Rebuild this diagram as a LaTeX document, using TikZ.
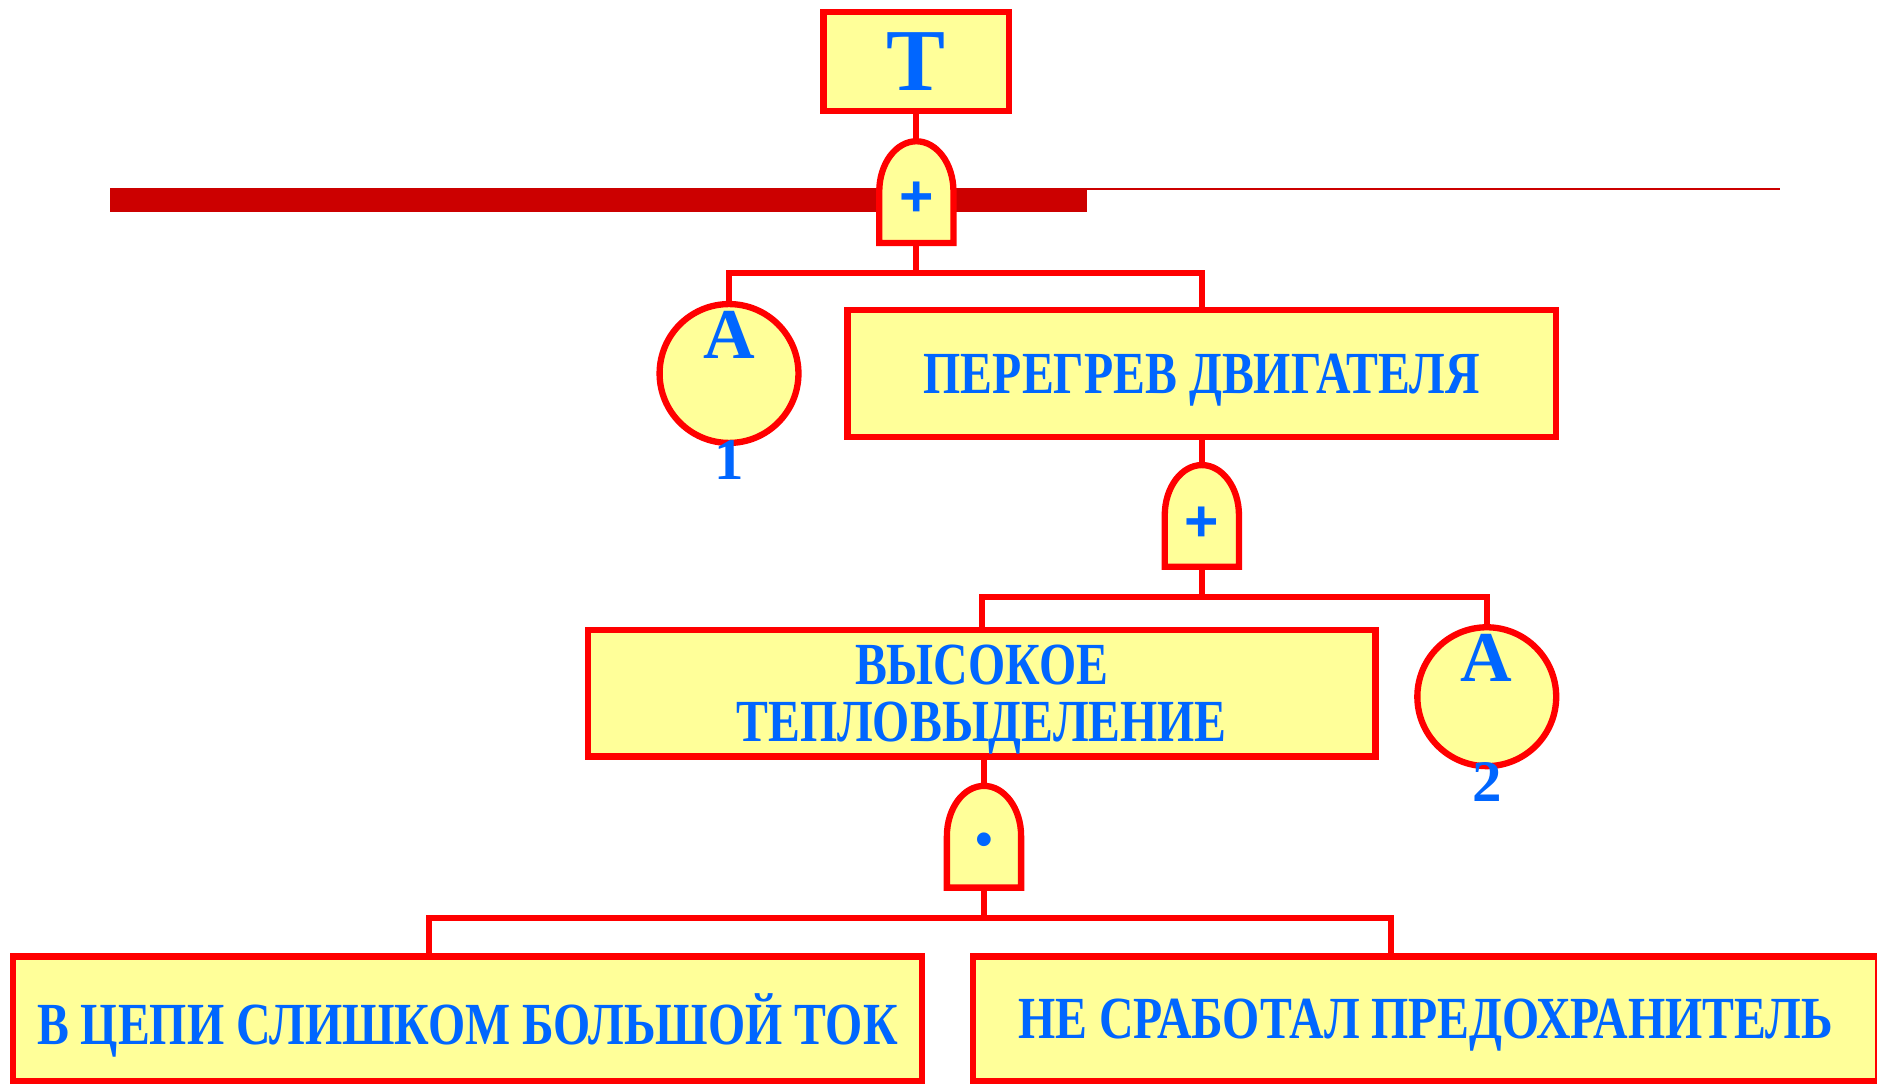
\documentclass[tikz,border=0pt]{standalone}
\usepackage{fontspec}
\setmainfont{Liberation Serif}
\newfontfamily\narrowfont[FakeStretch=0.8]{Liberation Serif}
\newfontfamily\gatefont{Liberation Sans}
\usepackage{xcolor}
\usetikzlibrary{positioning, calc}

\definecolor{boxfill}{HTML}{FFFF99}
\definecolor{boxred}{HTML}{FF0000}
\definecolor{textblue}{HTML}{0066FF}
\definecolor{barred}{HTML}{CC0000}

\tikzset{
    event/.style={draw=boxred, fill=boxfill, line width=1.5pt, inner sep=0pt, text=textblue, text depth=0pt,
        font=\narrowfont\bfseries\fontsize{14.2}{13.6}\selectfont, align=center},
    basic/.style={circle, draw=boxred, fill=boxfill, line width=1.5pt, minimum size=1.16cm, inner sep=0pt},
    gatebox/.style={minimum width=0.62cm, minimum height=0.85cm, inner sep=0pt, outer sep=0pt},
    gateline/.style={draw=boxred, fill=boxfill, line width=1.5pt},
    wire/.style={draw=boxred, line width=1.4pt},
    gatesym/.style={text=textblue, inner sep=0pt, font=\gatefont\bfseries\fontsize{14}{14}\selectfont},
    letter/.style={text=textblue, inner sep=0pt, font=\bfseries\fontsize{17}{17}\selectfont},
    digit/.style={text=textblue, inner sep=0pt, font=\bfseries\fontsize{14}{14}\selectfont}
}

% rounded-top gate body drawn over an empty gatebox node
\newcommand{\gateshape}[1]{%
    \path[gateline] (#1.south west) -- ($(#1.north west)+(0,-0.42)$)
        arc[start angle=180, end angle=0, x radius=0.31cm, y radius=0.42cm]
        -- (#1.south east) -- cycle;}

\begin{document}
\begin{tikzpicture}

    \clip (0,0) rectangle (15.68,-9.06);

    % Heavy bar behind the first gate
    \fill[barred] (0.92,-1.57) rectangle (9.08,-1.77);
    \fill[barred] (9.08,-1.57) rectangle (14.87,-1.587);

    % --- TOP EVENT ---
    \node[event, minimum width=1.55cm, minimum height=0.83cm,
        font=\bfseries\fontsize{21}{21}\selectfont] (T) at (7.655,-0.515) {T};

    % OR gate under T
    \node[gatebox] (g1) at (7.655,-1.605) {};

    % --- SECOND LEVEL ---
    \node[basic] (A1) at (6.09,-3.12) {};
    \node[event, minimum width=5.92cm, minimum height=1.06cm] (P) at (10.04,-3.12) {ПЕРЕГРЕВ ДВИГАТЕЛЯ};

    % OR gate under the engine box
    \node[gatebox] (g2) at (10.04,-4.31) {};

    % --- THIRD LEVEL ---
    \node[event, minimum width=6.58cm, minimum height=1.06cm] (V) at (8.20,-5.79) {ВЫСОКОЕ\\ТЕПЛОВЫДЕЛЕНИЕ};
    \node[basic] (A2) at (12.42,-5.82) {};

    % AND gate under the heat box
    \node[gatebox] (g3) at (8.22,-6.99) {};

    % --- BOTTOM EVENTS ---
    \node[event, minimum width=7.59cm, minimum height=1.04cm] (C) at (3.905,-8.51) {В ЦЕПИ СЛИШКОМ БОЛЬШОЙ ТОК};
    \node[event, minimum width=7.56cm, minimum height=1.04cm] (F) at (11.91,-8.51) {НЕ СРАБОТАЛ ПРЕДОХРАНИТЕЛЬ};

    % Connectors
    \draw[wire] (T.south) -- (g1.north);
    \draw[wire] (g1.south) -- ++(0,-0.25) -| (A1.north);
    \draw[wire] (g1.south) -- ++(0,-0.25) -| (P.north);
    \draw[wire] (P.south) -- (g2.north);
    \draw[wire] (g2.south) -- ++(0,-0.25) -| (V.north);
    \draw[wire] (g2.south) -- ++(0,-0.25) -| (A2.north);
    \draw[wire] (g3.north) -- (g3.north |- V.south);
    \draw[wire] (g3.south) -- ++(0,-0.25) -| ([xshift=-0.32cm]C.north);
    \draw[wire] (g3.south) -- ++(0,-0.25) -| ([xshift=-0.29cm]F.north);

    % Gate bodies and their signs
    \gateshape{g1}
    \gateshape{g2}
    \gateshape{g3}
    \node[gatesym] (g1s) at ([yshift=-0.06cm]g1.center) {+};
    \node[gatesym] (g2s) at ([yshift=-0.07cm]g2.center) {+};
    \node[gatesym, font=\gatefont\fontsize{12}{12}\selectfont] (g3s) at ([yshift=-0.07cm]g3.center) {•};

    % Transfer symbols
    \node[letter] (A1t) at ([yshift=-0.28cm]A1.north) {A};
    \node[digit] (A1n) at ([yshift=-0.12cm]A1.south) {1};
    \node[letter] (A2t) at ([yshift=-0.28cm]A2.north) {A};
    \node[digit] (A2n) at ([yshift=-0.11cm]A2.south) {2};

\end{tikzpicture}
\end{document}
